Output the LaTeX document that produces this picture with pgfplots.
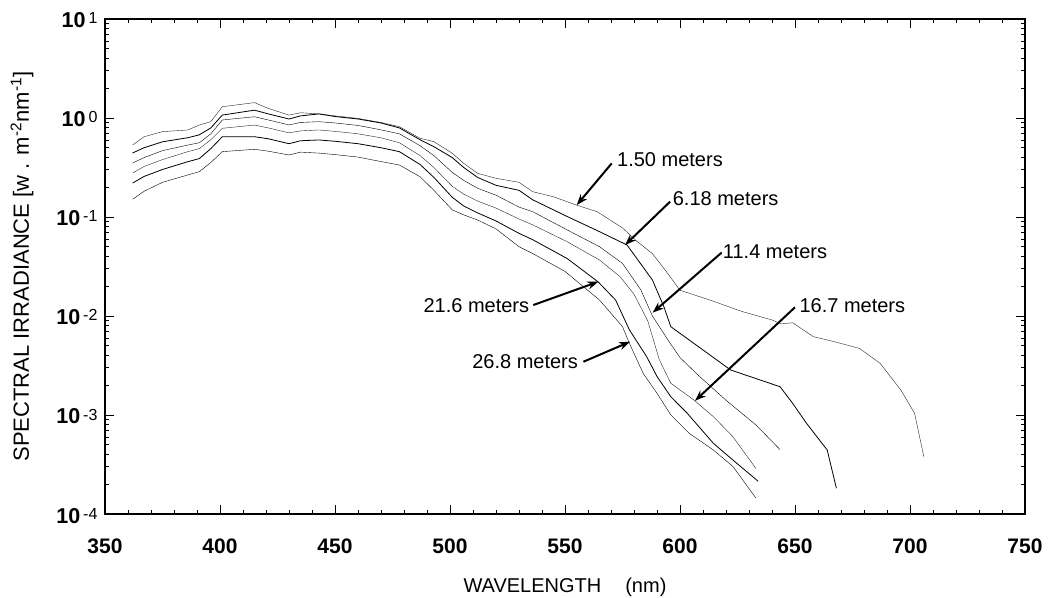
\documentclass[border=0pt]{standalone}
\usepackage{fontspec}
\setmainfont{Liberation Sans}
\usepackage{pgfplots}
\pgfplotsset{compat=1.18}
\usetikzlibrary{arrows.meta}
\newcommand{\dec}[1]{\textbf{10}\hspace{3pt}\raisebox{4pt}{\fontsize{16}{16}\selectfont #1}}
\begin{document}
\begin{tikzpicture}
\begin{axis}[
    name=ax,
    scale only axis,
    width=920pt, height=495pt,
    xmin=350, xmax=750,
    ymode=log, ymin=1e-4, ymax=10,
    xtick={350,400,...,750},
    xticklabels={350,400,450,500,550,600,650,700,750},
    minor x tick num=4,
    ytick={1e-4,1e-3,1e-2,1e-1,1,10},
    yticklabels={\dec{-4},\dec{-3},\dec{-2},\dec{-1},\dec{0},\dec{1}},
    tick align=inside,
    major tick length=9pt, minor tick length=4.5pt,
    axis line style={line width=1.2pt},
    every tick/.style={black, line width=0.9pt},
    xticklabel style={font=\fontsize{21}{21}\selectfont\bfseries, anchor=base, yshift=-39pt},
    yticklabel style={font=\fontsize{21.5}{21.5}\selectfont, anchor=base east, yshift=-9pt, xshift=-4pt},
    xlabel={WAVELENGTH\hspace{24pt}(nm)},
    ylabel={SPECTRAL IRRADIANCE [w . m\textsuperscript{-2}nm\textsuperscript{-1}]},
    xlabel style={font=\fontsize{20}{20}\selectfont, at={(axis description cs:0.5,0)}, anchor=base, yshift=-78pt},
    ylabel style={font=\fontsize{22}{22}\selectfont, at={(axis description cs:-0.0902,0.5)}, anchor=center},
    cycle list={{black!85, line width=0.8pt, mark=none}},
]
% 1.50 meters
\addplot coordinates {
 (362,0.533) (367,0.647) (375,0.728) (386,0.757) (391,0.849) (396,0.918) (401,1.30)
 (415,1.43) (421,1.25) (430,1.07) (435,1.13) (443,1.10) (450,1.05) (460,0.99)
 (470,0.90) (478,0.817) (487,0.624) (493,0.577) (501,0.440) (506,0.348) (512,0.276)
 (520,0.246) (530,0.224) (536,0.180) (545,0.160) (555,0.132) (564,0.113) (575,0.0776)
 (581,0.0575) (588,0.0427) (594,0.0282) (600,0.0182) (613,0.0145) (627,0.0111)
 (640,0.00912) (644,0.00832) (649,0.00855) (658,0.00618) (667,0.00551) (678,0.00471)
 (687,0.00333) (696,0.00179) (702,0.00104) (706,0.000379)
};
% 6.18 meters
\addplot coordinates {
 (362,0.443) (367,0.501) (375,0.575) (386,0.632) (391,0.676) (396,0.794) (401,1.07)
 (415,1.20) (421,1.10) (430,0.977) (435,1.05) (443,1.10) (450,1.035) (460,0.977)
 (470,0.891) (478,0.794) (487,0.603) (493,0.513) (501,0.398) (506,0.316) (512,0.251)
 (520,0.209) (530,0.186) (536,0.149) (551,0.101) (565,0.0711) (577,0.0521)
 (588,0.0231) (593,0.0124) (596,0.00780) (600,0.00668) (612,0.00420) (622,0.00285)
 (643.5,0.00193) (649,0.00131) (655,0.000824) (664,0.000443) (668,0.000182)
};
% 11.4 meters
\addplot coordinates {
 (362,0.351) (367,0.398) (375,0.468) (386,0.533) (391,0.562) (396,0.692) (401,0.955)
 (415,1.03) (421,0.955) (430,0.851) (435,0.902) (443,0.918) (450,0.891) (460,0.841)
 (470,0.759) (478,0.692) (487,0.525) (493,0.417) (501,0.282) (506,0.234) (512,0.195)
 (520,0.166) (530,0.126) (536,0.113) (551,0.0740) (565,0.0501) (575,0.0340)
 (583,0.0183) (588,0.0100) (595,0.00562) (600,0.00380) (608,0.00251) (620,0.00141)
 (633,0.000794) (643.5,0.000447)
};
% 16.7 meters
\addplot coordinates {
 (362,0.278) (367,0.324) (375,0.380) (386,0.457) (391,0.490) (396,0.603) (401,0.787)
 (415,0.849) (421,0.794) (430,0.708) (435,0.741) (443,0.757) (450,0.733) (460,0.692)
 (470,0.631) (478,0.562) (487,0.417) (493,0.316) (501,0.204) (506,0.170) (512,0.145)
 (520,0.123) (530,0.0955) (536,0.0832) (551,0.0562) (565,0.0368) (574,0.0249)
 (580,0.0166) (586,0.00891) (591,0.00363) (596,0.00209) (606,0.00142)
 (614.5,0.000962) (623,0.000604) (633,0.000288)
};
% 21.6 meters
\addplot coordinates {
 (362,0.220) (367,0.257) (375,0.302) (386,0.362) (391,0.389) (396,0.490) (401,0.647)
 (415,0.647) (421,0.617) (430,0.550) (435,0.589) (443,0.600) (450,0.582) (460,0.550)
 (470,0.501) (478,0.457) (487,0.339) (493,0.251) (501,0.158) (506,0.129) (512,0.110)
 (520,0.0912) (530,0.0684) (536,0.0589) (551,0.0380) (564.5,0.0220) (572,0.0145)
 (578,0.00724) (585.5,0.00389) (590,0.00245) (596,0.00153) (603,0.00105)
 (614.5,0.000518) (623,0.000351) (634,0.000214)
};
% 26.8 meters
\addplot coordinates {
 (362,0.151) (367,0.182) (375,0.224) (386,0.266) (391,0.287) (396,0.355) (401,0.457)
 (415,0.483) (421,0.462) (430,0.423) (435,0.452) (443,0.442) (450,0.427) (460,0.403)
 (470,0.363) (478,0.335) (487,0.255) (493,0.186) (501,0.118) (506,0.105) (512,0.0933)
 (520,0.0759) (530,0.0501) (536,0.0427) (550,0.0282) (565,0.0145) (575,0.00780)
 (578,0.00530) (584,0.00263) (590,0.00166) (596,0.00100) (604,0.000653)
 (614.5,0.000443) (623,0.000302) (633,0.000145)
};

% depth labels
\tikzset{lbl/.style={font=\fontsize{20}{20}\selectfont, inner sep=0pt},
         arr/.style={line width=2pt, -{Stealth[length=11pt,width=8pt]}}}
\node[lbl, anchor=base west] at (axis cs:572.6,0.320) {1.50 meters};
\node[lbl, anchor=base west] at (axis cs:596.8,0.132) {6.18 meters};
\node[lbl, anchor=base west] at (axis cs:618.6,0.0383) {11.4 meters};
\node[lbl, anchor=base west] at (axis cs:651.9,0.0109) {16.7 meters};
\node[lbl, anchor=base east] at (axis cs:534.5,0.0108) {21.6 meters};
\node[lbl, anchor=base east] at (axis cs:555.7,0.00292) {26.8 meters};
\draw[arr] (axis cs:570.3,0.348) -- (axis cs:555.1,0.132);
\draw[arr] (axis cs:595.7,0.143) -- (axis cs:576.1,0.0521);
\draw[arr] (axis cs:618.1,0.0437) -- (axis cs:588.1,0.0108);
\draw[arr] (axis cs:650,0.01225) -- (axis cs:606.5,0.00139);
\draw[arr] (axis cs:536.2,0.0129) -- (axis cs:564.5,0.0222);
\draw[arr] (axis cs:558,0.00345) -- (axis cs:578.3,0.00550);
\end{axis}
\pgfresetboundingbox
\path[use as bounding box] ([shift={(-105pt,-84pt)}]ax.south west) rectangle ([shift={(29pt,19pt)}]ax.north east);
\end{tikzpicture}
\end{document}
